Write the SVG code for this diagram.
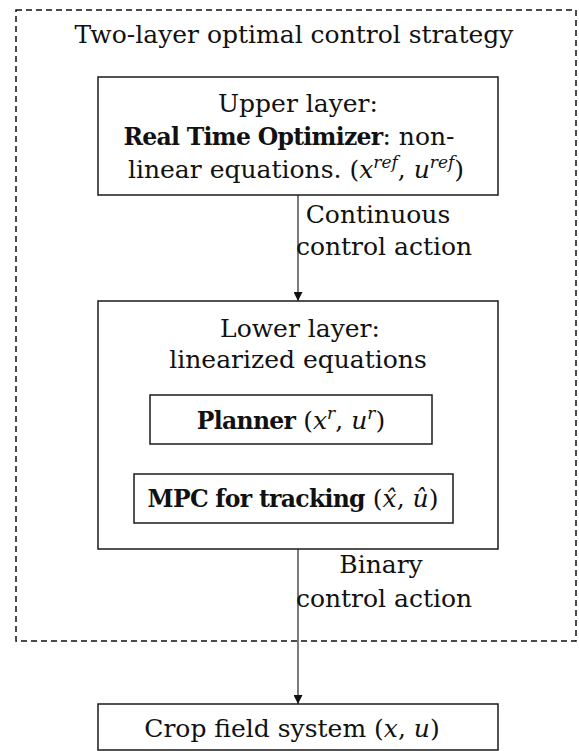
<svg xmlns="http://www.w3.org/2000/svg" width="579" height="751" viewBox="0 0 579 751">
  <defs>
    <marker id="arrow" viewBox="0 0 10 10" refX="10" refY="5" markerWidth="9" markerHeight="9" markerUnits="userSpaceOnUse" orient="auto">
      <path d="M0,0 L10,5 L0,10 Z" fill="#111"/>
    </marker>
    <style>
      text { font-family: "DejaVu Serif", "Liberation Serif", serif; font-size: 25px; fill: #111; }
      .b { font-weight: bold; font-size: 23.5px; letter-spacing: -0.7px; }
      .i { font-style: italic; }
      .sup { font-style: italic; font-size: 17px; }
      .box { fill: #fff; stroke: #1a1a1a; stroke-width: 1.5; }
      .dash { fill: none; stroke: #111; stroke-width: 1.5; stroke-dasharray: 6 4; }
      .edge { stroke: #222; stroke-width: 1.2; fill: none; }
    </style>
  </defs>

  <g id="strategy">
    <rect class="dash" x="16" y="10" width="560" height="631"/>
    <text x="294" y="43" text-anchor="middle">Two-layer optimal control strategy</text>
  </g>

  <g id="upper-layer">
    <rect class="box" x="98" y="77" width="400" height="118"/>
    <text x="298" y="112" text-anchor="middle">Upper layer:</text>
    <text x="289" y="145" text-anchor="middle"><tspan class="b">Real Time Optimizer</tspan>: non-</text>
    <text x="296" y="178" text-anchor="middle">linear equations. (<tspan class="i">x</tspan><tspan class="sup" dy="-10">ref</tspan><tspan dy="10">, </tspan><tspan class="i">u</tspan><tspan class="sup" dy="-10">ref</tspan><tspan dy="10">)</tspan></text>
  </g>

  <g id="lower-layer">
    <rect class="box" x="98" y="301" width="400" height="248"/>
    <text x="300" y="337" text-anchor="middle">Lower layer:</text>
    <text x="298" y="368" text-anchor="middle">linearized equations</text>
  </g>

  <g id="planner">
    <rect class="box" x="150" y="395" width="282" height="49"/>
    <text x="291" y="429" text-anchor="middle"><tspan class="b">Planner</tspan> (<tspan class="i">x</tspan><tspan class="sup" dy="-10">r</tspan><tspan dy="10">, </tspan><tspan class="i">u</tspan><tspan class="sup" dy="-10">r</tspan><tspan dy="10">)</tspan></text>
  </g>

  <g id="mpc">
    <rect class="box" x="134" y="474" width="319" height="49"/>
    <text x="293" y="507" text-anchor="middle"><tspan class="b">MPC for tracking</tspan> (<tspan class="i">x̂</tspan>, <tspan class="i">û</tspan>)</text>
  </g>

  <g id="crop-field">
    <rect class="box" x="98" y="704" width="400" height="46"/>
    <text x="292" y="737" text-anchor="middle">Crop field system (<tspan class="i">x</tspan>, <tspan class="i">u</tspan>)</text>
  </g>

  <g id="connectors">
    <line class="edge" x1="298" y1="195" x2="298" y2="301" marker-end="url(#arrow)"/>
    <text x="378" y="223" text-anchor="middle">Continuous</text>
    <text x="384" y="255" text-anchor="middle">control action</text>
    <line class="edge" x1="298" y1="549" x2="298" y2="704" marker-end="url(#arrow)"/>
    <text x="381" y="573" text-anchor="middle">Binary</text>
    <text x="384" y="607" text-anchor="middle">control action</text>
  </g>
</svg>
